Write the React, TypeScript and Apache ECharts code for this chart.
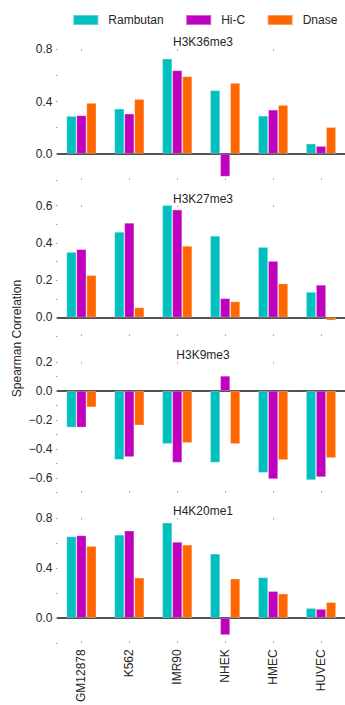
import React, { useEffect, useRef } from "react";
import * as echarts from "echarts";

const categories = ["GM12878", "K562", "IMR90", "NHEK", "HMEC", "HUVEC"];
const seriesNames = ["Rambutan", "Hi-C", "Dnase"];
const marks = ["H3K36me3", "H3K27me3", "H3K9me3", "H4K20me1"];

const h3k36me3Rambutan = [0.289, 0.345, 0.728, 0.486, 0.291, 0.077];
const h3k36me3HiC = [0.294, 0.307, 0.639, -0.176, 0.337, 0.059];
const h3k36me3Dnase = [0.389, 0.419, 0.593, 0.542, 0.373, 0.204];

const h3k27me3Rambutan = [0.351, 0.459, 0.604, 0.438, 0.378, 0.137];
const h3k27me3HiC = [0.366, 0.508, 0.578, 0.103, 0.303, 0.175];
const h3k27me3Dnase = [0.227, 0.054, 0.384, 0.086, 0.182, -0.016];

const h3k9me3Rambutan = [-0.252, -0.475, -0.366, -0.495, -0.565, -0.616];
const h3k9me3HiC = [-0.252, -0.456, -0.495, 0.104, -0.609, -0.595];
const h3k9me3Dnase = [-0.113, -0.238, -0.359, -0.366, -0.477, -0.463];

const h4k20me1Rambutan = [0.654, 0.667, 0.764, 0.515, 0.326, 0.079];
const h4k20me1HiC = [0.662, 0.7, 0.61, -0.138, 0.215, 0.072];
const h4k20me1Dnase = [0.577, 0.323, 0.587, 0.315, 0.195, 0.126];

const panelData = [
  [h3k36me3Rambutan, h3k36me3HiC, h3k36me3Dnase],
  [h3k27me3Rambutan, h3k27me3HiC, h3k27me3Dnase],
  [h3k9me3Rambutan, h3k9me3HiC, h3k9me3Dnase],
  [h4k20me1Rambutan, h4k20me1HiC, h4k20me1Dnase],
];

const yMins = [-0.2, -0.1, -0.7, -0.2];
const yMaxs = [0.8, 0.6, 0.2, 0.8];
const yTickSteps = [0.2, 0.1, 0.1, 0.2];
const yLabelSteps = [0.4, 0.2, 0.2, 0.4];

const colors = ["#00BFBF", "#BF00BF", "#FF6600"];
const FONT = "'Liberation Sans', Arial, sans-serif";
const TEXT = "#262626";

export default function App() {
  const ref = useRef<HTMLDivElement>(null);

  useEffect(() => {
    if (!ref.current) return;
    const chart = echarts.init(ref.current, null, { renderer: "svg" });

    const gridLeft = 57.4;
    const gridWidth = 291.2;
    const gridTop0 = 49.3;
    const gridStep = 156.3;
    const gridHeight = 130.5;

    const grids: any[] = [];
    const xAxes: any[] = [];
    const yAxes: any[] = [];
    const series: any[] = [];
    const graphics: any[] = [];

    for (let p = 0; p < 4; p++) {
      const top = gridTop0 + p * gridStep;
      grids.push({ left: gridLeft, top, width: gridWidth, height: gridHeight });

      xAxes.push({
        type: "category",
        gridIndex: p,
        data: categories,
        position: "bottom",
        axisLine: { show: true, onZero: true, lineStyle: { color: "#1a1a1a", width: 1.6 } },
        axisTick: { show: false },
        axisLabel: { show: false },
        splitLine: { show: false },
      });
      xAxes.push({
        type: "category",
        gridIndex: p,
        data: categories,
        position: "top",
        axisLine: { show: false },
        axisTick: { show: true, alignWithLabel: true, inside: true, length: 1.5, lineStyle: { color: "#999", width: 1 } },
        axisLabel: { show: false },
        splitLine: { show: false },
      });
      xAxes.push({
        type: "category",
        gridIndex: p,
        data: categories,
        position: "bottom",
        axisLine: { show: false, onZero: false },
        axisTick: { show: true, alignWithLabel: true, inside: true, length: 1.5, lineStyle: { color: "#999", width: 1 } },
        axisLabel: {
          show: p === 3,
          rotate: 90,
          margin: 6.5,
          fontSize: 12,
          fontFamily: FONT,
          color: TEXT,
          interval: 0,
        },
        splitLine: { show: false },
      });

      const labelStep = yLabelSteps[p];
      yAxes.push({
        type: "value",
        gridIndex: p,
        min: yMins[p],
        max: yMaxs[p],
        interval: yTickSteps[p],
        axisLine: { show: false },
        axisTick: { show: true, length: 1.5, lineStyle: { color: "#999", width: 1 } },
        splitLine: { show: false },
        axisLabel: {
          margin: 5,
          fontSize: 12,
          fontFamily: FONT,
          color: TEXT,
          showMinLabel: true,
          showMaxLabel: true,
          formatter: (v: number) => {
            const r = v / labelStep;
            if (Math.abs(r - Math.round(r)) > 1e-6) return "";
            const s = Math.abs(v).toFixed(1);
            return v < -1e-9 ? "\u2212" + s : s;
          },
        },
      });

      for (let s = 0; s < 3; s++) {
        series.push({
          type: "bar",
          name: seriesNames[s],
          xAxisIndex: p * 3,
          yAxisIndex: p,
          data: panelData[p][s],
          barWidth: 10,
          barGap: "0%",
          itemStyle: {
            color: colors[s],
            borderColor: "rgba(255,255,255,0.35)",
            borderWidth: 0.8,
          },
          z: 2,
        });
      }

      graphics.push({
        type: "text",
        x: gridLeft + gridWidth / 2,
        y: top - 7,
        style: {
          text: marks[p],
          font: `12px ${FONT}`,
          fill: TEXT,
          textAlign: "center",
          textVerticalAlign: "middle",
        },
      });
    }

    graphics.push({
      type: "text",
      x: 17,
      y: 338.5,
      rotation: Math.PI / 2,
      style: {
        text: "Spearman Correlation",
        font: `12px ${FONT}`,
        fill: TEXT,
        textAlign: "center",
        textVerticalAlign: "middle",
      },
    });

    chart.setOption({
      animation: false,
      backgroundColor: "#ffffff",
      legend: {
        data: seriesNames,
        left: 72.3,
        top: 14,
        width: 300,
        padding: 0,
        itemWidth: 25,
        itemHeight: 10,
        itemGap: 21.5,
        icon: "rect",
        textStyle: { fontSize: 12, fontFamily: FONT, color: TEXT, padding: [0, 0, 0, 5] },
      },
      grid: grids,
      xAxis: xAxes,
      yAxis: yAxes,
      series,
      graphic: graphics,
    });

    return () => chart.dispose();
  }, []);

  return (
    <div
      ref={ref}
      style={{ position: "fixed", left: 0, top: 0, width: 345, height: 705 }}
    />
  );
}
